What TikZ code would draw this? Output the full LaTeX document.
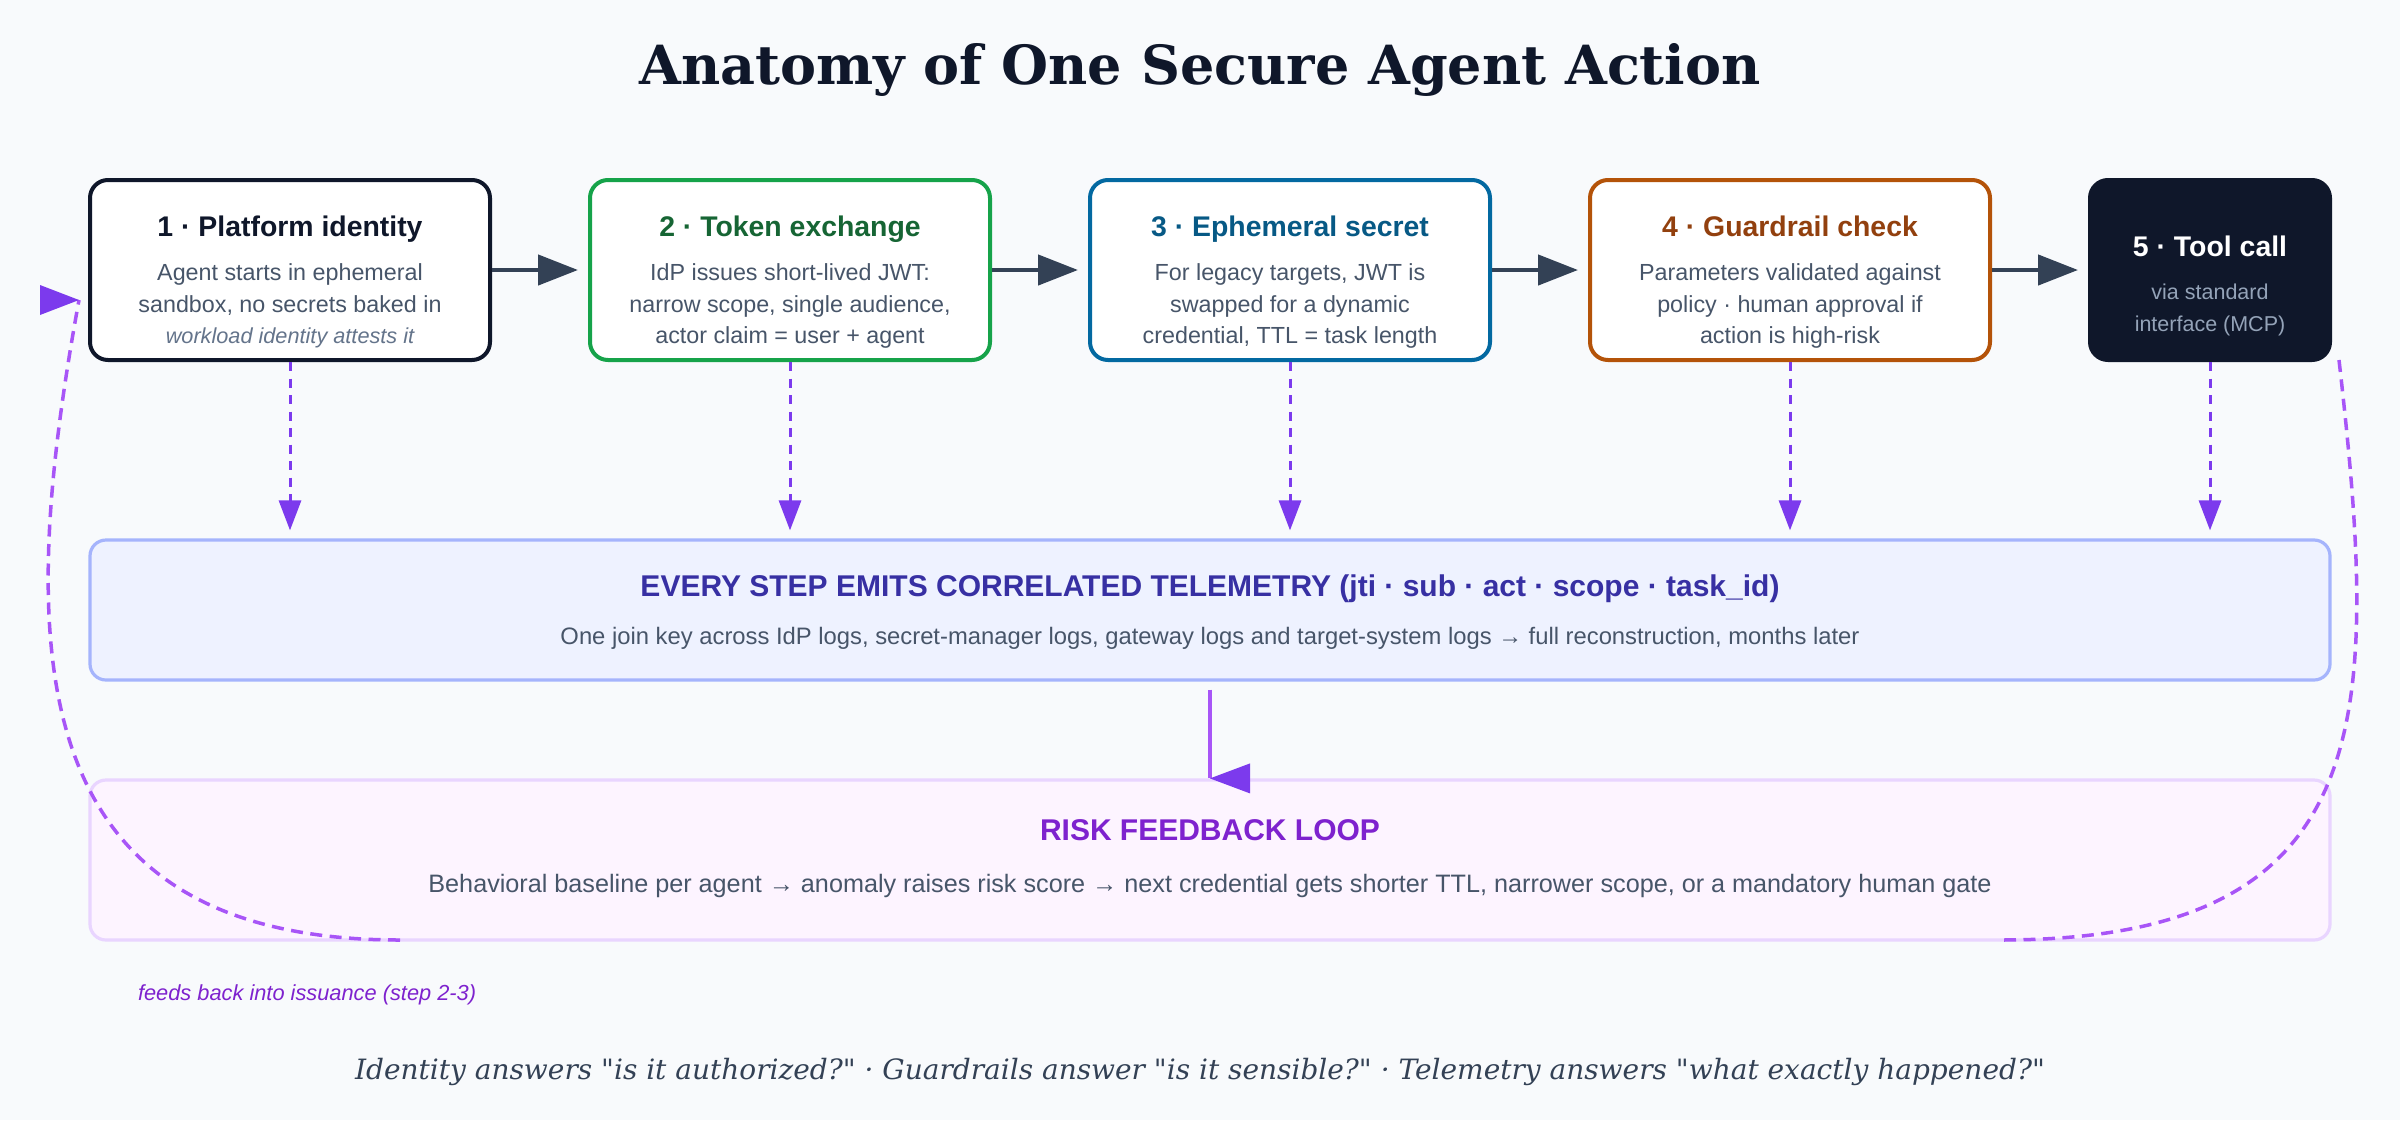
\documentclass[tikz,border=0pt]{standalone}
\usepackage{fontspec}
\setmainfont{Liberation Sans}
\newfontfamily\headserif{DejaVu Serif}
\usetikzlibrary{arrows.meta}

\definecolor{pagebg}{HTML}{F8FAFC}
\definecolor{inkdark}{HTML}{0F172A}
\definecolor{bodytxt}{HTML}{475569}
\definecolor{notetxt}{HTML}{64748B}
\definecolor{greenline}{HTML}{16A34A}
\definecolor{greentxt}{HTML}{166534}
\definecolor{blueline}{HTML}{0369A1}
\definecolor{bluetxt}{HTML}{075985}
\definecolor{orangeline}{HTML}{B45309}
\definecolor{orangetxt}{HTML}{92400E}
\definecolor{toolsub}{HTML}{94A3B8}
\definecolor{flowcol}{HTML}{334155}
\definecolor{telefill}{HTML}{EEF2FF}
\definecolor{teleline}{HTML}{A5B4FC}
\definecolor{teletxt}{HTML}{3730A3}
\definecolor{riskfill}{HTML}{FDF4FF}
\definecolor{riskline}{HTML}{E9D5FF}
\definecolor{risktxt}{HTML}{7E22CE}
\definecolor{violetline}{HTML}{A855F7}
\definecolor{violethead}{HTML}{7C3AED}

\tikzset{
  stepbox/.style={draw, line width=2pt, fill=white, rounded corners=9pt,
    minimum width=200pt, minimum height=90pt, inner sep=0pt},
  steptitle/.style={anchor=base, font=\fontsize{14.2pt}{17pt}\selectfont\bfseries},
  stepbody/.style={anchor=base, text=bodytxt, font=\fontsize{11.65pt}{14pt}\selectfont},
  bandtitle/.style={anchor=base, font=\fontsize{15pt}{18pt}\selectfont\bfseries},
  bandbox/.style={draw, line width=1.6pt, rounded corners=8pt,
    minimum width=1120pt, inner sep=0pt},
  stepflow/.style={draw=flowcol, line width=2.25pt,
    -{Triangle[length=20pt,width=15pt]}, shorten >=5pt},
  emitdash/.style={draw=violethead, line width=1.5pt, dash pattern=on 4.5pt off 3.75pt,
    -{Triangle[length=15pt,width=11pt]}, shorten >=4pt},
  feedline/.style={draw=violetline, line width=1.9pt, shorten <=4pt},
  fbdash/.style={draw=violetline, line width=1.75pt, dash pattern=on 6pt off 3.75pt},
  feedhead/.style={fill=violethead}
}

\begin{document}
\begin{tikzpicture}[x=0.5pt, y=-0.5pt]
\fill[pagebg] (0,0) rectangle (2400,1120);
\useasboundingbox (0,0) rectangle (2400,1120);

\node[anchor=base, text=inkdark, font=\headserif\fontsize{27pt}{32pt}\selectfont\bfseries] (heading) at (1200,84) {Anatomy of One Secure Agent Action};

% step boxes
\node[stepbox, draw=inkdark] (stepID) at (290,270) {};
\node[stepbox, draw=greenline] (stepTX) at (790,270) {};
\node[stepbox, draw=blueline] (stepSEC) at (1290,270) {};
\node[stepbox, draw=orangeline] (stepGR) at (1790,270) {};
\node[stepbox, draw=inkdark, fill=inkdark, minimum width=120pt] (stepTOOL) at (2210,270) {};

\node[steptitle, text=inkdark] (titleID) at (290,236) {1 · Platform identity};
\node[stepbody] (bodyIDa) at (290,280) {Agent starts in ephemeral};
\node[stepbody] (bodyIDb) at (290,312) {sandbox, no secrets baked in};
\node[stepbody, text=notetxt, font=\fontsize{10.85pt}{13pt}\selectfont\itshape] (bodyIDc) at (290,343) {workload identity attests it};

\node[steptitle, text=greentxt] (titleTX) at (790,236) {2 · Token exchange};
\node[stepbody] (bodyTXa) at (790,280) {IdP issues short-lived JWT:};
\node[stepbody] (bodyTXb) at (790,312) {narrow scope, single audience,};
\node[stepbody] (bodyTXc) at (790,343) {actor claim = user + agent};

\node[steptitle, text=bluetxt] (titleSEC) at (1290,236) {3 · Ephemeral secret};
\node[stepbody] (bodySECa) at (1290,280) {For legacy targets, JWT is};
\node[stepbody] (bodySECb) at (1290,312) {swapped for a dynamic};
\node[stepbody] (bodySECc) at (1290,343) {credential, TTL = task length};

\node[steptitle, text=orangetxt] (titleGR) at (1790,236) {4 · Guardrail check};
\node[stepbody] (bodyGRa) at (1790,280) {Parameters validated against};
\node[stepbody] (bodyGRb) at (1790,312) {policy · human approval if};
\node[stepbody] (bodyGRc) at (1790,343) {action is high-risk};

\node[steptitle, text=white] (titleTOOL) at (2210,256) {5 · Tool call};
\node[stepbody, text=toolsub, font=\fontsize{10.75pt}{13pt}\selectfont] (bodyTOOLa) at (2210,299) {via standard};
\node[stepbody, text=toolsub, font=\fontsize{10.75pt}{13pt}\selectfont] (bodyTOOLb) at (2210,331) {interface (MCP)};

% telemetry and risk bands
\node[bandbox, draw=teleline, fill=telefill, minimum height=70pt] (telem) at (1210,610) {};
\node[bandtitle, text=teletxt] (titleTELEM) at (1210,596) {EVERY STEP EMITS CORRELATED TELEMETRY (jti · sub · act · scope · task\_id)};
\node[stepbody, font=\fontsize{11.9pt}{14pt}\selectfont] (bodyTELEM) at (1210,644) {One join key across IdP logs, secret-manager logs, gateway logs and target-system logs → full reconstruction, months later};

\node[bandbox, draw=riskline, fill=riskfill, minimum height=80pt] (riskLoop) at (1210,860) {};
\node[bandtitle, text=risktxt] (titleRISK) at (1210,840) {RISK FEEDBACK LOOP};
\node[stepbody, font=\fontsize{12.6pt}{15pt}\selectfont] (bodyRISK) at (1210,892) {Behavioral baseline per agent → anomaly raises risk score → next credential gets shorter TTL, narrower scope, or a mandatory human gate};

% flow between steps
\draw[stepflow] (stepID) -- (stepTX);
\draw[stepflow] (stepTX) -- (stepSEC);
\draw[stepflow] (stepSEC) -- (stepGR);
\draw[stepflow] (stepGR) -- (stepTOOL);

% every step emits
\draw[emitdash] (stepID.south) -- (stepID.south |- telem.north);
\draw[emitdash] (stepTX.south) -- (stepTX.south |- telem.north);
\draw[emitdash] (stepSEC.south) -- (stepSEC.south |- telem.north);
\draw[emitdash] (stepGR.south) -- (stepGR.south |- telem.north);
\draw[emitdash] (stepTOOL.south) -- (stepTOOL.south |- telem.north);

\draw[feedline] (telem.south) -- (riskLoop.north);
\fill[feedhead] (riskLoop.north) -- ++(40,-15) -- ++(0,30) -- cycle;

% feedback loop
\coordinate (loopTop) at (2339,360);
\coordinate (loopRight) at (2000,940);
\coordinate (loopLeft) at (400,940);
\coordinate (loopEnd) at (79,300);
\draw[fbdash] (loopTop) .. controls (2380,720) and (2380,940) .. (loopRight);
\draw[fbdash] (loopLeft) .. controls (20,940) and (15,650) .. (loopEnd);
\fill[feedhead] (loopEnd) -- ++(-39,-15) -- ++(0,30) -- cycle;

\node[anchor=base west, text=risktxt, font=\fontsize{10.9pt}{13pt}\selectfont\itshape] (fbnote) at (131,1000) {feeds back into issuance (step 2-3)};

\node[anchor=base, text=flowcol, font=\headserif\fontsize{14pt}{17pt}\selectfont\itshape] (footer) at (1200,1079) {Identity answers \textquotedbl is it authorized?\textquotedbl\ · Guardrails answer \textquotedbl is it sensible?\textquotedbl\ · Telemetry answers \textquotedbl what exactly happened?\textquotedbl};
\end{tikzpicture}
\end{document}
